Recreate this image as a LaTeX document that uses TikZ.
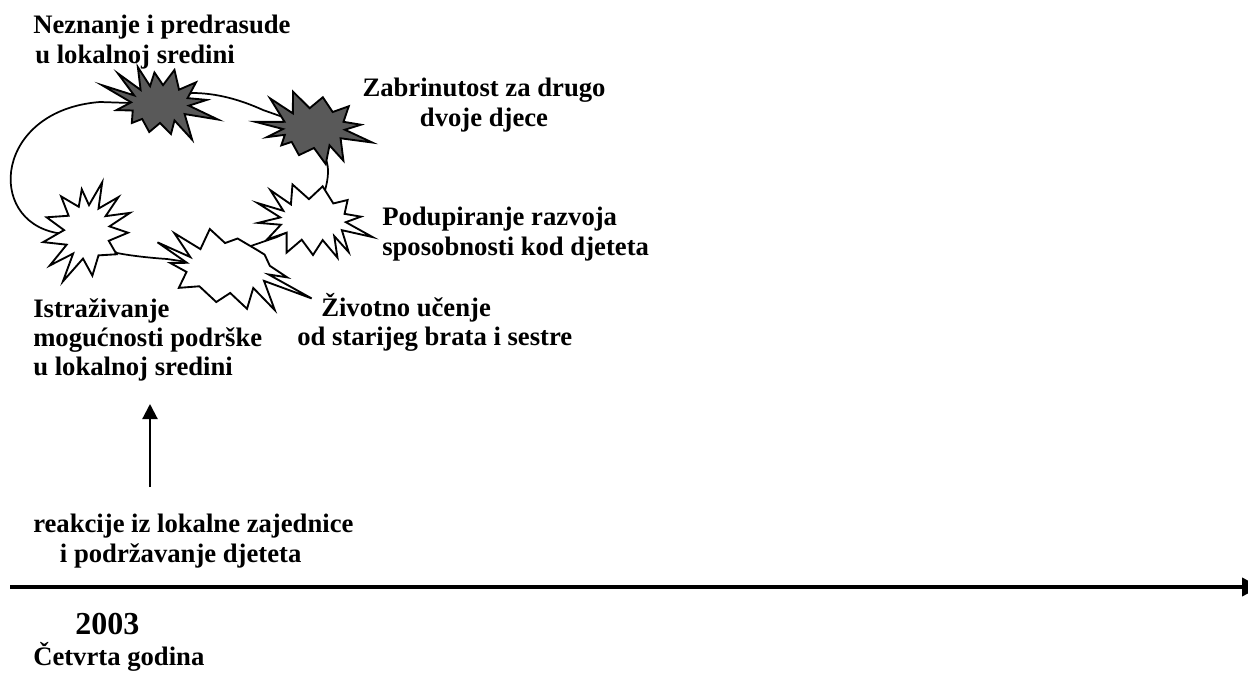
\documentclass[tikz,border=0pt]{standalone}
\usepackage{fontspec}
\setmainfont{Liberation Serif}
\usetikzlibrary{arrows.meta}
\definecolor{burstgray}{RGB}{89,89,89}
\tikzset{
  darkburst/.style={draw=black, fill=burstgray, line width=1.4pt, line join=miter},
  lightburst/.style={draw=black, fill=white, line width=1.4pt, line join=miter},
  link/.style={draw=black, line width=1.3pt},
  lbl/.style={font=\fontsize{20}{22}\selectfont\bfseries, inner sep=0pt, align=left},
  yearlbl/.style={font=\fontsize{24}{28}\selectfont\bfseries, inner sep=0pt},
  uparrow/.style={line width=1.6pt, -{Triangle[length=11.25pt, width=11.25pt]}},
  timeline/.style={line width=3pt, -{Triangle[length=13.5pt, width=13.5pt]}},
}
% #1 options, #2 start inner angle, #3/#4 inner radii, #5 list outer-angle/outer-radius/inner-angle
\newcommand\burst[5]{\draw[#1] (#2:#3 and #4) \foreach \ang/\rad/\inn in {#5} { -- (\ang:\rad) -- (\inn:#3 and #4) } -- cycle;}
\begin{document}
\begin{tikzpicture}[x=0.75pt, y=-0.75pt]
\useasboundingbox (0,0) rectangle (1248,673);

% star centres and connector ends
\coordinate (A) at (160,104);
\coordinate (B) at (314,128);
\coordinate (C) at (87,232);
\coordinate (D) at (228,268);
\coordinate (E) at (313,220);
\coordinate (A-w) at (100,102);
\coordinate (A-e) at (192,93);
\coordinate (B-w) at (263,110);
\coordinate (B-s) at (325,158);
\coordinate (E-n) at (323,197);
\coordinate (C-w) at (57,233);
\coordinate (C-e) at (117,253);
\coordinate (D-w) at (167,259);
\coordinate (D-e) at (245,248);
\coordinate (E-w) at (277,237);

% connectors
\draw[link] (A) -- (A-w) .. controls +(-105,8) and +(-72,-13) .. (C-w) -- (C);
\draw[link] (A) -- (A-e) .. controls +(25,0) and +(-22,-10) .. (B-w) -- (B);
\draw[link] (B) -- (B-s) .. controls +(6,10) and +(4,-12) .. (E-n) -- (E);
\draw[link] (C) -- (C-e) .. controls +(15,3) and +(-15,-1) .. (D-w) -- (D);
\draw[link] (D) -- (D-e) -- (E-w) -- (E);

% bursts
\burst{darkburst, shift={(A)}}{185}{29}{19}{198/61/207, 216/52/228, 239/43/250, 260/32/276, 293/37/311, 329/42/342, 355/47/365, 375/60/392, 408/48/420, 430/32/450, 471/30/488, 506/34/520, 532/44/545}
\burst{darkburst, shift={(B)}}{177}{31}{20}{186/59/198, 214/53/227, 240/42/262, 286/32/307, 328/41/342, 356/47/365, 374/60/391, 408/44/420, 432/38/450, 479/31/496, 512/37/520, 529/48/537}
\burst{lightburst, shift={(C)}}{-12}{23}{27}{1/41/19, 37/37/60, 83/44/100, 116/55/127, 138/50/152, 167/45/184, 200/43/217, 234/44/249, 263/43/275, 287/52/300, 312/47/324, 336/47/348}
\burst{lightburst, shift={(D)}}{-5}{42}{25}{9/60/15, 20/89/31, 42/63/53, 65/45/87, 109/36/133, 158/53/171, 185/58/192, 200/75/206, 213/64/229, 245/43/266, 288/31/314, 340/39/355}
\burst{lightburst, shift={(E)}}{6}{33}{21}{16/62/29, 42/48/50, 57/45/73, 90/35/110, 129/42/143, 157/50/167, 177/55/187, 197/58/206, 215/52/228, 240/41/263, 286/35/308, 330/40/343, 356/48/366}

% labels
\node[lbl, anchor=north west] (nez) at (33,15) {Neznanje i predrasude\\\hspace*{1.5pt}u lokalnoj sredini};
\node[lbl, anchor=north, align=center] (zab) at (484,78) {Zabrinutost za drugo\\dvoje djece};
\node[lbl, anchor=north west] (pod) at (382,207) {Podupiranje razvoja\\sposobnosti kod djeteta};
\node[lbl, anchor=north west] (ist) at (33,298) {Istraživanje\\mogućnosti podrške\\u lokalnoj sredini};
\node[lbl, anchor=north west] (ziv) at (297,293) {\hspace*{18pt}Životno učenje\\od starijeg brata i sestre};
\node[lbl, anchor=north west] (reak) at (33,514) {reakcije iz lokalne zajednice\\\hspace*{20pt}i podržavanje djeteta};
\node[yearlbl, anchor=north west] (year) at (75,613) {2003};
\node[lbl, anchor=north west] (cet) at (33,642) {Četvrta godina};

% arrows
\coordinate (up-bot) at (150,487);
\coordinate (up-top) at (150,404);
\draw[uparrow] (up-bot) -- (up-top);
\coordinate (t0) at (10,587);
\coordinate (t1) at (1260,587);
\draw[timeline] (t0) -- (t1);
\end{tikzpicture}
\end{document}
